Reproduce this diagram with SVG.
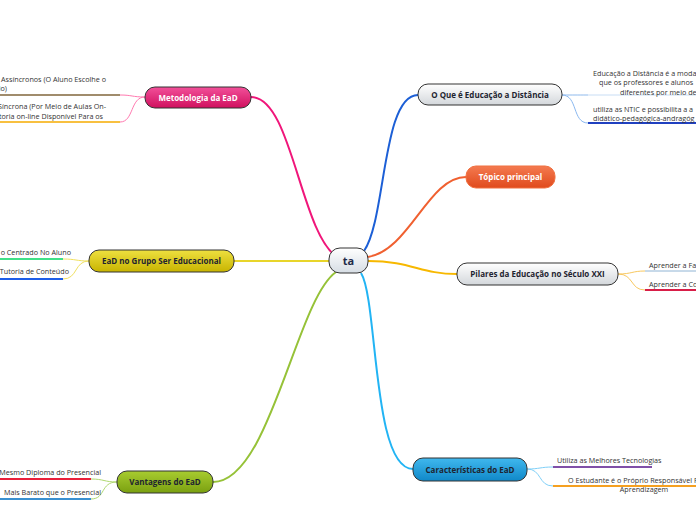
<svg xmlns="http://www.w3.org/2000/svg" width="696" height="520" viewBox="0 0 696 520">
<defs>
<linearGradient id="gGray" x1="0" y1="0" x2="0" y2="1"><stop offset="0" stop-color="#ffffff"/><stop offset="1" stop-color="#d3d7db"/></linearGradient>
<linearGradient id="gCenter" x1="0" y1="0" x2="0" y2="1"><stop offset="0" stop-color="#ffffff"/><stop offset="1" stop-color="#d6dde4"/></linearGradient>
<linearGradient id="gPink" x1="0" y1="0" x2="0" y2="1"><stop offset="0" stop-color="#f2509a"/><stop offset="1" stop-color="#d0105e"/></linearGradient>
<linearGradient id="gYellow" x1="0" y1="0" x2="0" y2="1"><stop offset="0" stop-color="#eee040"/><stop offset="1" stop-color="#c8b400"/></linearGradient>
<linearGradient id="gGreen" x1="0" y1="0" x2="0" y2="1"><stop offset="0" stop-color="#a8cc30"/><stop offset="1" stop-color="#7aa010"/></linearGradient>
<linearGradient id="gOrange" x1="0" y1="0" x2="0" y2="1"><stop offset="0" stop-color="#f47a50"/><stop offset="1" stop-color="#e04a1c"/></linearGradient>
<linearGradient id="gBlue" x1="0" y1="0" x2="0" y2="1"><stop offset="0" stop-color="#40b8ee"/><stop offset="1" stop-color="#1088c8"/></linearGradient>
</defs>
<style>
.node{stroke:#333;stroke-width:1}
.lbl{font-family:"Open Sans","Noto Sans",sans-serif;font-weight:bold;font-size:8px;text-anchor:middle}
.dark{fill:#1e2430}
.white{fill:#ffffff}
.sub{font-family:"Open Sans","Noto Sans",sans-serif;font-size:7.2px;fill:#333}
.c{fill:none;stroke-width:2}
.s{fill:none;stroke-width:1}
.u{stroke-width:2}
</style>
<g id="connectors">
<path class="c" stroke="#f0167a" d="M251,97 C292,97 300,232 337,257"/>
<path class="c" stroke="#1c5fd6" d="M364,251 C386,220 382,95 418,95"/>
<path class="c" stroke="#f06030" d="M368,257 C410,250 428,177 466,177"/>
<path class="c" stroke="#f7b800" d="M368,261 C412,261 420,274 457,274"/>
<path class="c" stroke="#22b4f4" d="M361,273 C378,300 372,469 413,469"/>
<path class="c" stroke="#e8d52a" d="M329,261 C300,261 260,261 234,261"/>
<path class="c" stroke="#96c238" d="M336,272 C296,300 270,482 213,482"/>
<path class="s" stroke="#ff7ab0" d="M145,97 C132,97 132,95 120,95"/>
<path class="s" stroke="#ff7ab0" d="M145,97 C130,97 134,122 120,122"/>
<path class="s" stroke="#f0e060" d="M89,261 C76,261 76,259 63,259"/>
<path class="s" stroke="#f0e060" d="M89,261 C74,261 78,279 63,279"/>
<path class="s" stroke="#b0d870" d="M117,482 C104,482 104,479 91,479"/>
<path class="s" stroke="#b0d870" d="M117,482 C100,482 106,499 91,499"/>
<path class="s" stroke="#8ab8f0" d="M562,95 C575,95 575,95 588,95"/>
<path class="s" stroke="#8ab8f0" d="M562,95 C578,95 572,123 588,123"/>
<path class="s" stroke="#f8c860" d="M618,274 C632,274 632,271 645,271"/>
<path class="s" stroke="#f8c860" d="M618,274 C634,274 630,290 645,290"/>
<path class="s" stroke="#80d0f8" d="M527,469 C540,469 540,467 553,467"/>
<path class="s" stroke="#80d0f8" d="M527,469 C542,469 538,486 553,486"/>
</g>
<g id="center">
<rect class="node" x="329" y="248" width="39" height="25" rx="11" fill="url(#gCenter)" stroke="#4a90c8"/>
<text x="348.5" y="264.5" font-family="'Open Sans','Noto Sans',sans-serif" font-weight="bold" font-size="11" text-anchor="middle" fill="#1e2a48">ta</text>
</g>
<g id="metodologia">
<rect class="node" x="145" y="87" width="106" height="21" rx="10" fill="url(#gPink)"/>
<text class="lbl white" x="198" y="100.5">Metodologia da EaD</text>
<line class="u" x1="0" y1="95" x2="120" y2="95" stroke="#a08c6c"/>
<text class="sub" x="106" y="82" text-anchor="end">Assíncronos (O Aluno Escolhe o</text>
<text class="sub" x="7" y="91" text-anchor="end">io)</text>
<line class="u" x1="0" y1="122" x2="120" y2="122" stroke="#f8c040"/>
<text class="sub" x="106" y="109" text-anchor="end">Síncrona (Por Meio de Aulas On-</text>
<text class="sub" x="103" y="119" text-anchor="end">toria on-line Disponível Para os</text>
</g>
<g id="grupo">
<rect class="node" x="89" y="250" width="145" height="22" rx="10" fill="url(#gYellow)"/>
<text class="lbl dark" x="161.5" y="264">EaD no Grupo Ser Educacional</text>
<line class="u" x1="0" y1="259" x2="63" y2="259" stroke="#40e088"/>
<text class="sub" x="71" y="255" text-anchor="end">o Centrado No Aluno</text>
<line class="u" x1="0" y1="279" x2="63" y2="279" stroke="#1e5ee8"/>
<text class="sub" x="69" y="274" text-anchor="end">Tutoria de Conteúdo</text>
</g>
<g id="vantagens">
<rect class="node" x="117" y="471" width="96" height="22" rx="10" fill="url(#gGreen)"/>
<text class="lbl dark" x="165" y="485">Vantagens do EaD</text>
<line class="u" x1="0" y1="479" x2="91" y2="479" stroke="#e8203a"/>
<text class="sub" x="101" y="475" text-anchor="end">Mesmo Diploma do Presencial</text>
<line class="u" x1="0" y1="499" x2="91" y2="499" stroke="#3a90d0"/>
<text class="sub" x="101" y="495" text-anchor="end">Mais Barato que o Presencial</text>
</g>
<g id="oque">
<rect class="node" x="418" y="84" width="144" height="21" rx="10" fill="url(#gGray)"/>
<text class="lbl dark" x="490" y="97.5">O Que é Educação a Distância</text>
<line x1="566" y1="95" x2="696" y2="95" stroke="#c8ddf4" stroke-width="1"/>
<text class="sub" x="593" y="75.5">Educação a Distância é a moda</text>
<text class="sub" x="599" y="85">que os professores e alunos</text>
<text class="sub" x="620" y="94.5">diferentes por meio de</text>
<line class="u" x1="588" y1="123" x2="696" y2="123" stroke="#2040c0"/>
<text class="sub" x="593" y="112">utiliza as NTIC e possibilita a a</text>
<text class="sub" x="593" y="121">didático-pedagógica-andragóg</text>
</g>
<g id="topico">
<rect x="466" y="166" width="89" height="22" rx="10" fill="url(#gOrange)" stroke="#f07040" stroke-width="1"/>
<text class="lbl white" x="510.5" y="180">Tópico principal</text>
</g>
<g id="pilares">
<rect class="node" x="457" y="263" width="161" height="22" rx="10" fill="url(#gGray)"/>
<text class="lbl dark" x="537.5" y="277">Pilares da Educação no Século XXI</text>
<line x1="645" y1="271" x2="696" y2="271" stroke="#90b4d4" stroke-width="1"/>
<text class="sub" x="649" y="268">Aprender a Fa</text>
<line class="u" x1="645" y1="290" x2="696" y2="290" stroke="#d81e48"/>
<text class="sub" x="649" y="287">Aprender a Co</text>
</g>
<g id="caracteristicas">
<rect class="node" x="413" y="458" width="114" height="23" rx="10" fill="url(#gBlue)"/>
<text class="lbl dark" x="470" y="472.5">Características do EaD</text>
<line class="u" x1="553" y1="467" x2="652" y2="467" stroke="#8050a8"/>
<text class="sub" x="557" y="463">Utiliza as Melhores Tecnologias</text>
<line class="u" x1="553" y1="486" x2="696" y2="486" stroke="#f5a020"/>
<text class="sub" x="568" y="483">O Estudante é o Próprio Responsável P</text>
<text class="sub" x="644" y="492" text-anchor="middle">Aprendizagem</text>
</g>
</svg>
